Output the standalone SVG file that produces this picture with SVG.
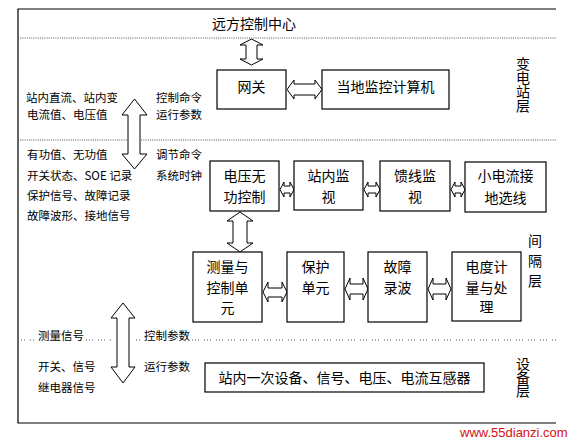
<svg xmlns="http://www.w3.org/2000/svg" width="574" height="444" viewBox="0 0 574 444">
<style>
.box{fill:#fff;stroke:#000;stroke-width:1.2}
.arr{fill:#fff;stroke:#000;stroke-width:1}
.dot{stroke:#555;stroke-width:1;stroke-dasharray:1 1.2;fill:none}
.t{font-family:"Noto Sans CJK SC","Liberation Sans",sans-serif;font-size:14px;fill:#000;text-anchor:middle}
.v{font-family:"Noto Sans CJK SC","Liberation Sans",sans-serif;font-size:14px;fill:#000;writing-mode:vertical-rl;text-anchor:start}
.s{font-family:"Noto Sans CJK SC","Liberation Sans",sans-serif;font-size:11.5px;fill:#000}
.w{font-family:"Liberation Sans",Arial,sans-serif;font-size:13px;fill:#d81010}
</style>
<rect width="574" height="444" fill="#fff"/>
<g id="frame">
<path d="M556,9 H18 V423 H556" fill="none" stroke="#000" stroke-width="1.2"/>
<line class="dot" x1="18" y1="38" x2="556" y2="38"/>
<line class="dot" x1="18" y1="140" x2="556" y2="140"/>
<path class="dot" d="M18,340 H36 M86,340 H112 M136,340 H142 M192,340 H556" style="stroke-dasharray:1 2 1 2 1 5"/>
</g>
<g id="layer-labels">
<text class="t" x="254" y="29">远方控制中心</text>
<text class="v" x="523" y="57">变电站层</text>
<text class="v" x="535" y="234" style="letter-spacing:6px">间隔层</text>
<text class="v" x="523" y="357" style="letter-spacing:-0.5px">设备层</text>
</g>
<g id="side-texts">
<text class="s" x="26" y="102">站内直流、站内变</text>
<text class="s" x="27" y="119">电流值、电压值</text>
<text class="s" x="156" y="102">控制命令</text>
<text class="s" x="156" y="119">运行参数</text>
<text class="s" x="27" y="159">有功值、无功值</text>
<text class="s" x="27" y="180">开关状态、SOE 记录</text>
<text class="s" x="27" y="200">保护信号、故障记录</text>
<text class="s" x="27" y="220">故障波形、接地信号</text>
<text class="s" x="156" y="159">调节命令</text>
<text class="s" x="156" y="180">系统时钟</text>
<text class="s" x="38" y="340">测量信号</text>
<text class="s" x="144" y="340">控制参数</text>
<text class="s" x="38" y="371">开关、信号</text>
<text class="s" x="38" y="392">继电器信号</text>
<text class="s" x="144" y="371">运行参数</text>
</g>
<g id="connectors">
<polygon class="arr" points="251.5,39 263,45 257,45 257,59 263,59 251.5,65 240,59 246,59 246,45 240,45"/>
<polygon class="arr" points="287,89.5 294,80 294,84 315,84 315,80 322,89.5 315,99 315,95 294,95 294,99"/>
<polygon class="arr" points="134.5,99 147,115 140,115 140,154 147,154 134.5,169 122,154 128,154 128,115 122,115"/>
<polygon class="arr" points="280,189.5 284,182 284,186 290,186 290,182 294,189.5 290,197 290,193 284,193 284,197"/>
<polygon class="arr" points="364,189.5 368,182 368,186 376,186 376,182 380,189.5 376,197 376,193 368,193 368,197"/>
<polygon class="arr" points="451,189.5 455,182 455,186 461,186 461,182 465,189.5 461,197 461,193 455,193 455,197"/>
<polygon class="arr" points="240,212 253,221 247,221 247,243 253,243 240,252 227,243 233,243 233,221 227,221"/>
<polygon class="arr" points="263,292 268,282 268,288 282,288 282,282 287,292 282,302 282,297 268,297 268,302"/>
<polygon class="arr" points="345,289 350,278 350,284 363,284 363,278 368,289 363,300 363,294 350,294 350,300"/>
<polygon class="arr" points="428,289 433,278 433,284 446,284 446,278 451,289 446,300 446,294 433,294 433,300"/>
<polygon class="arr" points="123,303 135,318 129,318 129,367 135,367 123,383 111,367 117,367 117,318 111,318"/>
</g>
<g id="gateway"><rect class="box" x="217" y="70" width="69" height="39"/><text class="t" x="251.5" y="92">网关</text></g>
<g id="local-computer"><rect class="box" x="322" y="70" width="127" height="39"/><text class="t" x="385.5" y="92">当地监控计算机</text></g>
<g id="voltage-var"><rect class="box" x="210" y="161" width="69" height="50"/><text class="t" x="244.5" y="181">电压无</text><text class="t" x="244.5" y="202">功控制</text></g>
<g id="station-monitor"><rect class="box" x="294" y="161" width="69" height="49"/><text class="t" x="328.5" y="181">站内监</text><text class="t" x="328.5" y="202">视</text></g>
<g id="feeder-monitor"><rect class="box" x="380" y="161" width="70" height="50"/><text class="t" x="415" y="181">馈线监</text><text class="t" x="415" y="202">视</text></g>
<g id="ground-select"><rect class="box" x="465" y="162" width="81" height="50"/><text class="t" x="505.5" y="181">小电流接</text><text class="t" x="505.5" y="203">地选线</text></g>
<g id="measure-control"><rect class="box" x="193" y="252" width="69" height="70"/><text class="t" x="227.5" y="272">测量与</text><text class="t" x="227.5" y="293">控制单</text><text class="t" x="227.5" y="313">元</text></g>
<g id="protection"><rect class="box" x="287" y="252" width="57" height="70"/><text class="t" x="315.5" y="272">保护</text><text class="t" x="315.5" y="293">单元</text></g>
<g id="fault-record"><rect class="box" x="368" y="252" width="59" height="70"/><text class="t" x="397.5" y="272">故障</text><text class="t" x="397.5" y="293">录波</text></g>
<g id="energy-meter"><rect class="box" x="452" y="252" width="69" height="69"/><text class="t" x="486.5" y="272">电度计</text><text class="t" x="486.5" y="293">量与处</text><text class="t" x="486.5" y="312">理</text></g>
<g id="primary-equipment"><rect class="box" x="205" y="363" width="279" height="29"/><text class="t" x="344.5" y="383">站内一次设备、信号、电压、电流互感器</text></g>
<text class="w" x="460" y="437">www.55dianzi.com</text>
</svg>
